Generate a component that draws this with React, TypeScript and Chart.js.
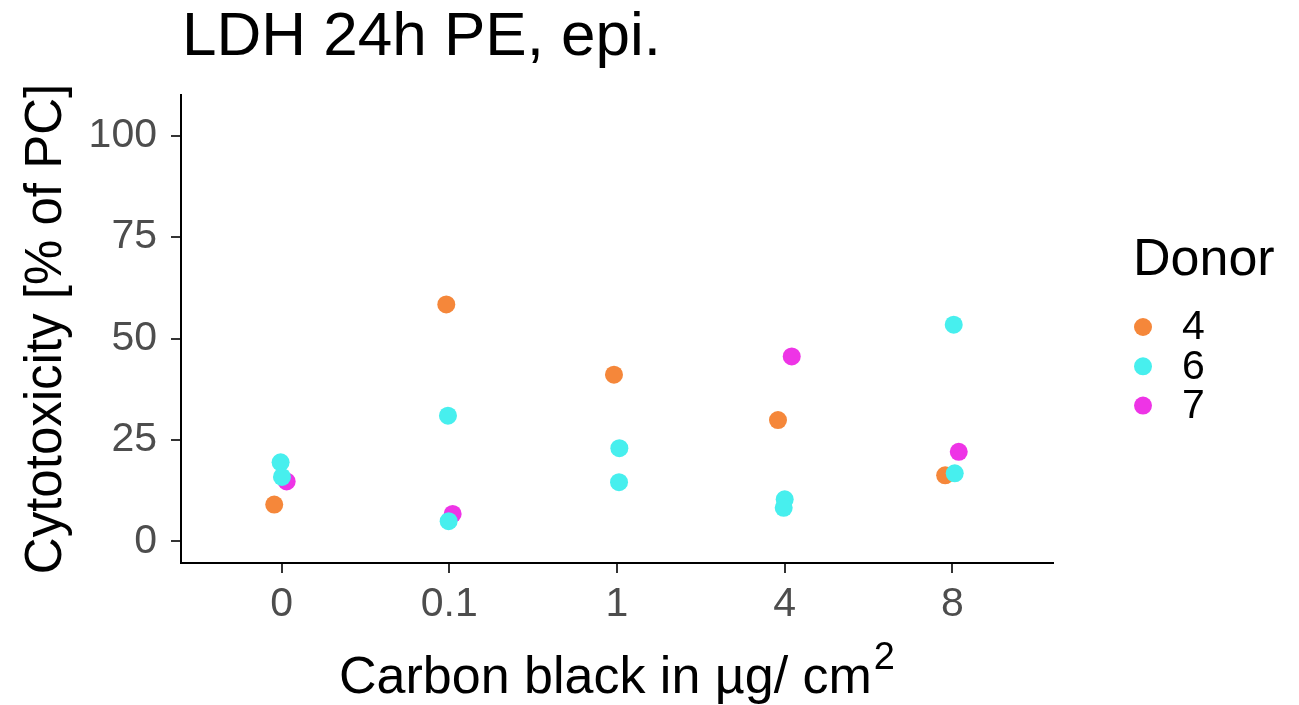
import React, { useEffect, useRef } from "react";
import { Chart, registerables } from "chart.js";

Chart.register(...registerables);

const FONT = "'Liberation Sans', Arial, Helvetica, sans-serif";

const titleText = "LDH 24h PE, epi.";
const xTitleMain = "Carbon black in µg/ cm";
const xTitleSup = "2";
const yTitle = "Cytotoxicity [% of PC]";
const legendTitle = "Donor";

const doses = ["0", "0.1", "1", "4", "8"];
const yTicks = [0, 25, 50, 75, 100];
const donors = ["4", "6", "7"];
const colors = ["#F5873A", "#47EFEE", "#EE34E6"];

// Donor 4
const d4Dose = [0, 1, 2, 3, 4];
const d4Vals = [9.1, 58.4, 41.1, 29.9, 16.3];
const d4Jitter = [-0.044, -0.018, -0.018, -0.04, -0.043];

// Donor 6
const d6Dose = [0, 0, 1, 1, 2, 2, 3, 3, 4, 4];
const d6Vals = [19.5, 15.9, 31.0, 5.0, 23.0, 14.6, 10.4, 8.3, 53.4, 16.8];
const d6Jitter = [-0.006, 0.002, -0.008, -0.004, 0.014, 0.012, 0.0, -0.006, 0.008, 0.014];

// Donor 7
const d7Dose = [0, 1, 3, 4];
const d7Vals = [14.8, 6.8, 45.6, 22.1];
const d7Jitter = [0.03, 0.02, 0.042, 0.038];

const toPoints = (dose: number[], vals: number[], jit: number[]) =>
  dose.map((d, i) => ({ x: d + jit[i], y: vals[i] }));

const overlayPlugin = {
  id: "overlay",
  afterDraw(chart: any) {
    const ctx = chart.ctx as CanvasRenderingContext2D;
    const a = chart.chartArea;
    ctx.save();
    // title
    ctx.fillStyle = "#000";
    ctx.textAlign = "left";
    ctx.textBaseline = "alphabetic";
    ctx.font = `62px ${FONT}`;
    ctx.fillText(titleText, a.left + 1, 55);
    // x axis title with superscript
    ctx.font = `52px ${FONT}`;
    const w1 = ctx.measureText(xTitleMain).width;
    ctx.font = `38px ${FONT}`;
    const w2 = ctx.measureText(xTitleSup).width;
    const cx = (a.left + a.right) / 2;
    const sx = cx - (w1 + w2 + 2) / 2;
    ctx.font = `52px ${FONT}`;
    ctx.fillText(xTitleMain, sx, 693);
    ctx.font = `38px ${FONT}`;
    ctx.fillText(xTitleSup, sx + w1 + 2, 669);
    // legend
    ctx.font = `52px ${FONT}`;
    ctx.fillText(legendTitle, 1133, 275);
    donors.forEach((d, i) => {
      const y = 327 + i * 39.3;
      ctx.beginPath();
      ctx.arc(1143, y, 9, 0, Math.PI * 2);
      ctx.fillStyle = colors[i];
      ctx.fill();
      ctx.fillStyle = "#000";
      ctx.font = `41px ${FONT}`;
      ctx.textBaseline = "middle";
      ctx.fillText(d, 1182, y + 1);
      ctx.textBaseline = "alphabetic";
    });
    ctx.restore();
  },
};

export default function App() {
  const ref = useRef<HTMLCanvasElement | null>(null);

  useEffect(() => {
    if (!ref.current) return;
    const mk = (i: number, data: any[], order: number) => ({
      label: donors[i],
      data,
      backgroundColor: colors[i],
      borderWidth: 0,
      pointRadius: 9,
      pointHoverRadius: 9,
      order,
    });
    const chart = new Chart(ref.current, {
      type: "scatter",
      data: {
        datasets: [
          mk(0, toPoints(d4Dose, d4Vals, d4Jitter), 2),
          mk(1, toPoints(d6Dose, d6Vals, d6Jitter), 0),
          mk(2, toPoints(d7Dose, d7Vals, d7Jitter), 1),
        ],
      },
      options: {
        responsive: false,
        animation: false,
        devicePixelRatio: 1,
        layout: { padding: { top: 95, right: 246, bottom: 0, left: 0 } },
        plugins: {
          legend: { display: false },
          tooltip: { enabled: false },
          title: { display: false },
        },
        scales: {
          x: {
            type: "linear",
            min: -0.6,
            max: 4.6,
            afterBuildTicks: (s: any) => {
              s.ticks = doses.map((_, i) => ({ value: i }));
            },
            afterFit: (s: any) => {
              s.height = 142;
            },
            grid: {
              display: true,
              drawOnChartArea: false,
              drawTicks: true,
              tickLength: 10,
              color: "#333333",
              lineWidth: 2,
            },
            border: { display: true, color: "#000", width: 2 },
            ticks: {
              autoSkip: false,
              maxRotation: 0,
              color: "#4D4D4D",
              font: { family: FONT, size: 41 },
              padding: 7,
              callback: (v: any) => doses[Math.round(Number(v))] ?? "",
            },
            title: { display: false },
          },
          y: {
            type: "linear",
            min: -5.3,
            max: 110,
            afterBuildTicks: (s: any) => {
              s.ticks = yTicks.map((v) => ({ value: v }));
            },
            afterFit: (s: any) => {
              s.width = 181;
            },
            grid: {
              display: true,
              drawOnChartArea: false,
              drawTicks: true,
              tickLength: 10,
              color: "#333333",
              lineWidth: 2,
            },
            border: { display: true, color: "#000", width: 2 },
            ticks: {
              color: "#4D4D4D",
              font: { family: FONT, size: 41 },
              padding: 14,
              callback: (v: any) => String(v),
            },
            title: {
              display: true,
              text: yTitle,
              color: "#000",
              font: { family: FONT, size: 51, lineHeight: 1 },
              padding: { top: 21, bottom: 0 },
            },
          },
        },
      },
      plugins: [overlayPlugin],
    });
    return () => chart.destroy();
  }, []);

  return (
    <div style={{ position: "absolute", left: 0, top: 0, width: 1299, height: 705, background: "#fff" }}>
      <canvas ref={ref} width={1299} height={705} style={{ display: "block" }} />
    </div>
  );
}
